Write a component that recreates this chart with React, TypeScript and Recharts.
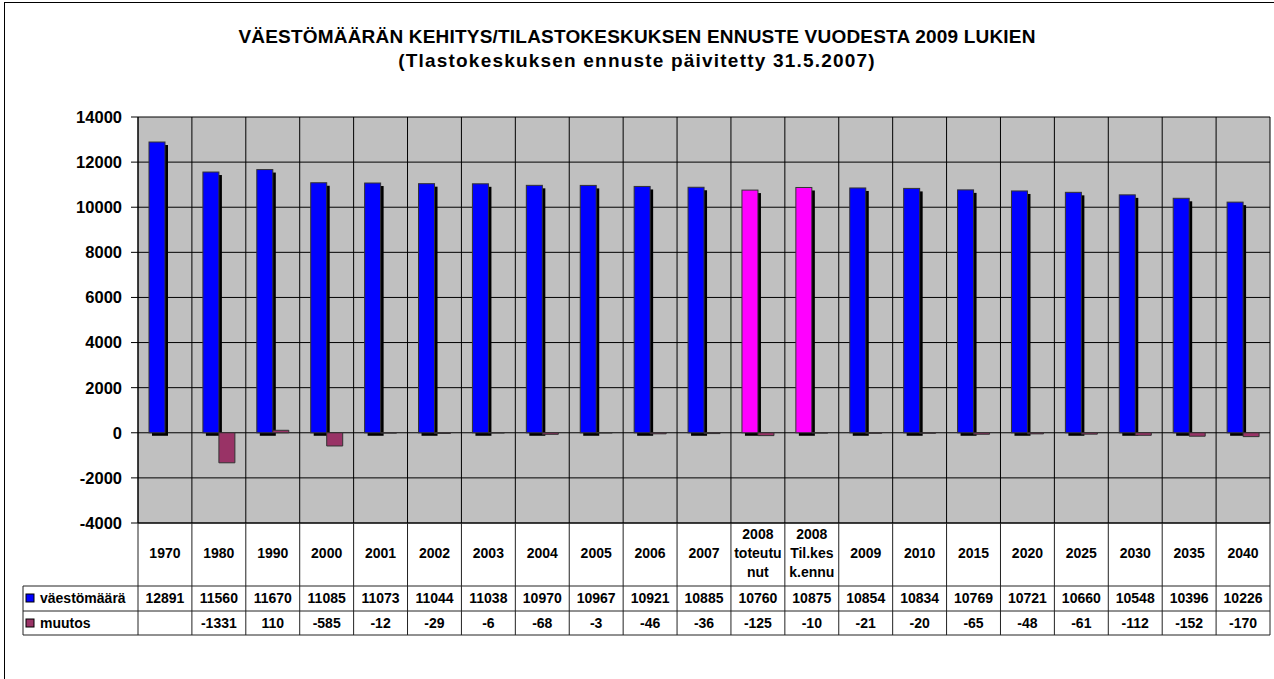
import React from 'react';
import { BarChart, Bar, XAxis, YAxis, CartesianGrid, Cell } from 'recharts';

const categories: string[] = [
  '1970', '1980', '1990', '2000', '2001', '2002', '2003', '2004', '2005', '2006', '2007',
  '2008\ntoteutu\nnut', '2008\nTil.kes\nk.ennu',
  '2009', '2010', '2015', '2020', '2025', '2030', '2035', '2040',
];
const population: number[] = [
  12891, 11560, 11670, 11085, 11073, 11044, 11038, 10970, 10967, 10921, 10885,
  10760, 10875, 10854, 10834, 10769, 10721, 10660, 10548, 10396, 10226,
];
const change: (number | null)[] = [
  null, -1331, 110, -585, -12, -29, -6, -68, -3, -46, -36,
  -125, -10, -21, -20, -65, -48, -61, -112, -152, -170,
];
const highlighted: number[] = [11, 12];
const yTicks: number[] = [-4000, -2000, 0, 2000, 4000, 6000, 8000, 10000, 12000, 14000];
const seriesNames = { population: 'väestömäärä', change: 'muutos' };
const titleLines = [
  'VÄESTÖMÄÄRÄN KEHITYS/TILASTOKESKUKSEN ENNUSTE VUODESTA 2009 LUKIEN',
  '(Tlastokeskuksen ennuste päivitetty 31.5.2007)',
];

const data = categories.map((c, i) => ({
  name: c,
  population: population[i],
  change: change[i],
}));

const W = 1274;
const H = 679;
const Y_AXIS_W = 138;
const RIGHT_M = 4;
const TOP_M = 117;
const X_AXIS_H = 156;
const PLOT_W = W - Y_AXIS_W - RIGHT_M;
const FONT = '"Liberation Sans", Arial, sans-serif';

const BLUE = '#0000FF';
const PINK = '#FF00FF';
const MAROON = '#993366';
const LINE = '#222';

const ShadowBar = (props: any) => {
  const { x, y, width, height, fill } = props;
  if (width == null || height == null) return null;
  return (
    <g>
      <rect x={x + 3} y={y + 3} width={width} height={height} fill="#000" />
      <rect x={x} y={y} width={width} height={height} fill={fill} stroke="#333" strokeWidth={1} />
    </g>
  );
};

const TableTick = (props: any) => {
  const { x, y, payload } = props;
  const index: number = props.index ?? payload?.index ?? 0;
  const n = categories.length;
  const band = PLOT_W / n;
  const left = x - band / 2;
  const right = x + band / 2;
  const headerBottom = y + 63;
  const row1Bottom = y + 88;
  const row2Bottom = y + 112;
  const lines = String(categories[index] ?? payload.value).split('\n');
  const lineH = 19;
  const headerCenter = y + 30;
  const firstLineY = headerCenter - ((lines.length - 1) * lineH) / 2;
  const textStyle = { fontFamily: FONT, fontWeight: 700, fontSize: 14, fill: '#000' } as const;
  const legendLeft = left - 115;
  const plotRight = left + PLOT_W;
  const ch = change[index];
  return (
    <g>
      {index === 0 && (
        <g>
          <line x1={legendLeft} x2={plotRight} y1={headerBottom} y2={headerBottom} stroke={LINE} />
          <line x1={legendLeft} x2={plotRight} y1={row1Bottom} y2={row1Bottom} stroke={LINE} />
          <line x1={legendLeft} x2={plotRight} y1={row2Bottom} y2={row2Bottom} stroke={LINE} />
          <line x1={legendLeft} x2={legendLeft} y1={headerBottom} y2={row2Bottom} stroke={LINE} />
          <rect x={legendLeft + 3} y={headerBottom + 8} width={8} height={8} fill={BLUE} stroke="#000" />
          <text x={legendLeft + 17} y={headerBottom + 17} style={textStyle}>{seriesNames.population}</text>
          <rect x={legendLeft + 3} y={row1Bottom + 8} width={8} height={8} fill={MAROON} stroke="#000" />
          <text x={legendLeft + 17} y={row1Bottom + 17} style={textStyle}>{seriesNames.change}</text>
        </g>
      )}
      <line x1={left} x2={left} y1={y} y2={row2Bottom} stroke={LINE} />
      {index === n - 1 && <line x1={right} x2={right} y1={y} y2={row2Bottom} stroke={LINE} />}
      {lines.map((l, i) => (
        <text key={i} x={x} y={firstLineY + i * lineH + 5} textAnchor="middle" style={textStyle}>
          {l}
        </text>
      ))}
      <text x={x} y={headerBottom + 17} textAnchor="middle" style={textStyle}>
        {population[index]}
      </text>
      {ch != null && (
        <text x={x} y={row1Bottom + 17} textAnchor="middle" style={textStyle}>
          {ch}
        </text>
      )}
    </g>
  );
};

export default function App() {
  return (
    <div
      style={{
        position: 'absolute',
        left: 0,
        top: 0,
        width: W,
        height: H,
        background: '#fff',
        overflow: 'hidden',
        fontFamily: FONT,
      }}
    >
      <div
        style={{
          position: 'absolute',
          left: 4,
          top: 2,
          width: W + 20,
          height: H + 20,
          border: '1px solid #000',
        }}
      />
      <div
        style={{
          position: 'absolute',
          left: 0,
          top: 25,
          width: W,
          textAlign: 'center',
          fontWeight: 700,
          fontSize: 19,
          lineHeight: '24px',
          color: '#000',
        }}
      >
        <div style={{ letterSpacing: 0.2 }}>{titleLines[0]}</div>
        <div style={{ letterSpacing: 1.2 }}>{titleLines[1]}</div>
      </div>
      <div style={{ position: 'absolute', left: 0, top: 0 }}>
        <BarChart
          width={W}
          height={H}
          data={data}
          margin={{ top: TOP_M, right: RIGHT_M, bottom: 0, left: 0 }}
          barSize={16}
          barGap={0}
        >
          <CartesianGrid
            fill="#C0C0C0"
            stroke="#000"
            strokeOpacity={1}
            verticalCoordinatesGenerator={({ offset }: any) =>
              Array.from({ length: categories.length + 1 }, (_, i) => offset.left + (i * offset.width) / categories.length)
            }
          />
          <XAxis
            dataKey="name"
            interval={0}
            tickLine={false}
            tickSize={0}
            tickMargin={0}
            height={X_AXIS_H}
            axisLine={{ stroke: '#000' }}
            tick={<TableTick />}
          />
          <YAxis
            width={Y_AXIS_W}
            domain={[-4000, 14000]}
            ticks={yTicks}
            interval={0}
            allowDataOverflow
            tickSize={7}
            tickMargin={9}
            axisLine={{ stroke: '#000' }}
            tickLine={{ stroke: '#000' }}
            tick={{ fill: '#000', fontSize: 16.5, fontWeight: 700, fontFamily: FONT }}
          />
          <Bar dataKey="population" isAnimationActive={false} shape={<ShadowBar />}>
            {data.map((_, i) => (
              <Cell key={i} fill={highlighted.includes(i) ? PINK : BLUE} />
            ))}
          </Bar>
          <Bar dataKey="change" isAnimationActive={false} fill={MAROON} stroke="#333" strokeWidth={1} />
        </BarChart>
      </div>
    </div>
  );
}
